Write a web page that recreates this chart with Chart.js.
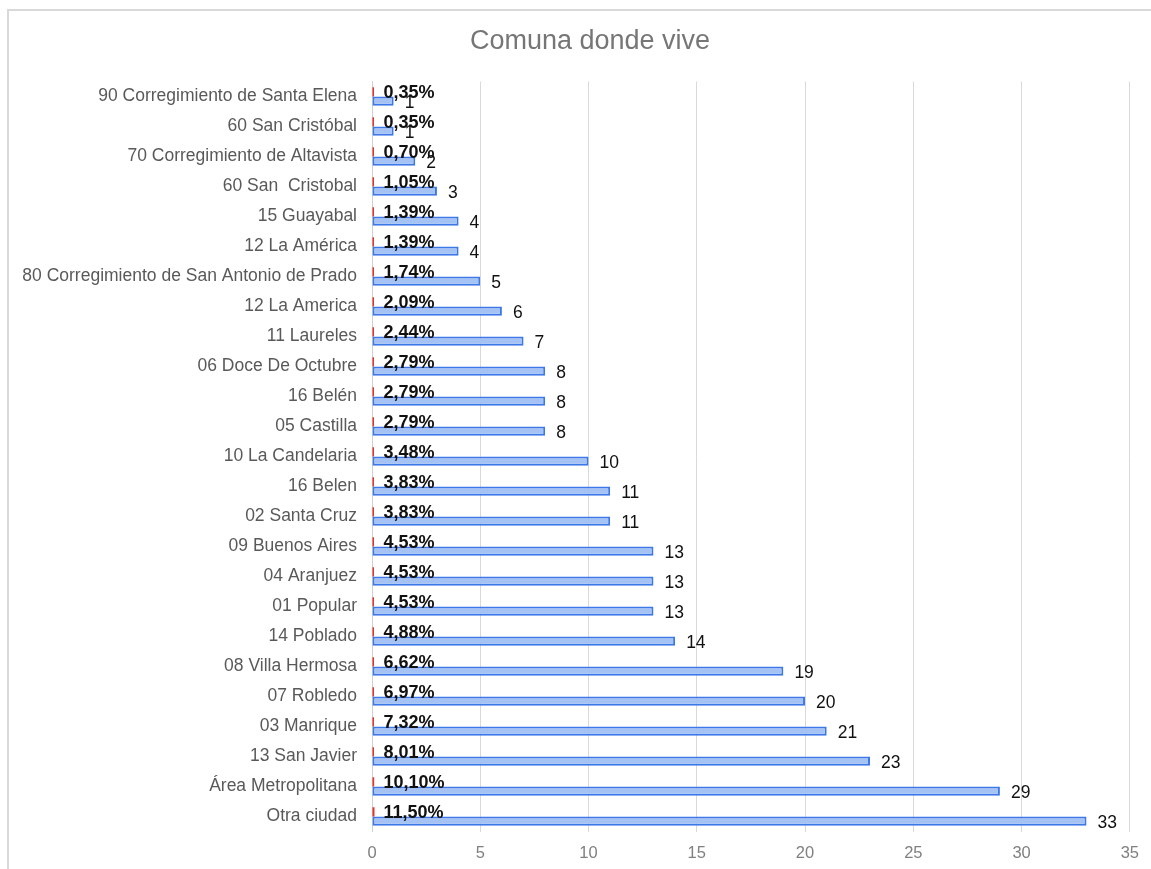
<!DOCTYPE html>
<html>
<head>
<meta charset="utf-8">
<script src="https://cdn.jsdelivr.net/npm/chart.js@4/dist/chart.umd.min.js"></script>
<style>
  html, body { margin: 0; padding: 0; background: #fff; }
  #wrap { position: relative; width: 1151px; height: 869px; overflow: hidden; }
  #frame { position: absolute; left: 7px; top: 9px; width: 1160px; height: 880px;
           border-top: 2px solid #d9d9d9; border-left: 2px solid #d9d9d9; pointer-events: none; }
  canvas { position: absolute; left: 0; top: 0; display: block; }
</style>
</head>
<body>
<div id="wrap">
  <canvas id="c" width="1151" height="869"></canvas>
  <div id="frame"></div>
</div>
<script>
const chartTitle = "Comuna donde vive";
const categories = [
  "90 Corregimiento de Santa Elena",
  "60 San Cristóbal",
  "70 Corregimiento de Altavista",
  "60 San  Cristobal",
  "15 Guayabal",
  "12 La América",
  "80 Corregimiento de San Antonio de Prado",
  "12 La America",
  "11 Laureles",
  "06 Doce De Octubre",
  "16 Belén",
  "05 Castilla",
  "10 La Candelaria",
  "16 Belen",
  "02 Santa Cruz",
  "09 Buenos Aires",
  "04 Aranjuez",
  "01 Popular",
  "14 Poblado",
  "08 Villa Hermosa",
  "07 Robledo",
  "03 Manrique",
  "13 San Javier",
  "Área Metropolitana",
  "Otra ciudad"
];
const counts = [1, 1, 2, 3, 4, 4, 5, 6, 7, 8, 8, 8, 10, 11, 11, 13, 13, 13, 14, 19, 20, 21, 23, 29, 33];
const shares = [0.0035, 0.0035, 0.0070, 0.0105, 0.0139, 0.0139, 0.0174, 0.0209, 0.0244, 0.0279, 0.0279, 0.0279,
                0.0348, 0.0383, 0.0383, 0.0453, 0.0453, 0.0453, 0.0488, 0.0662, 0.0697, 0.0732, 0.0801, 0.1010, 0.1150];
const xTicks = [0, 5, 10, 15, 20, 25, 30, 35];

const FONT = '"Liberation Sans", Arial, sans-serif';

function pct(v) {
  return (v * 100).toFixed(2).replace('.', ',') + '%';
}

const titlePlugin = {
  id: 'offsetTitle',
  afterDraw(chart) {
    const ctx = chart.ctx;
    ctx.save();
    ctx.font = '27px ' + FONT;
    ctx.fillStyle = '#767676';
    ctx.textAlign = 'center';
    ctx.textBaseline = 'middle';
    ctx.fillText(chartTitle, 590, 42);
    ctx.restore();
  }
};

const labelPlugin = {
  id: 'barLabels',
  afterDatasetsDraw(chart) {
    const ctx = chart.ctx;
    ctx.save();
    ctx.textBaseline = 'middle';
    ctx.textAlign = 'left';
    const m0 = chart.getDatasetMeta(0);
    ctx.font = 'bold 18px ' + FONT;
    ctx.fillStyle = '#111';
    m0.data.forEach((el, i) => {
      ctx.fillText(pct(shares[i]), el.base + 11, el.y + 1);
    });
    const m1 = chart.getDatasetMeta(1);
    ctx.font = '17.5px ' + FONT;
    ctx.fillStyle = '#111';
    m1.data.forEach((el, i) => {
      ctx.fillText(String(counts[i]), el.x + 11, el.y + 2);
    });
    ctx.restore();
  }
};

new Chart(document.getElementById('c'), {
  type: 'bar',
  data: {
    labels: categories,
    datasets: [
      {
        label: 'Porcentaje',
        data: shares,
        backgroundColor: '#e8302a',
        borderWidth: 0,
        minBarLength: 2,
        barPercentage: 1,
        categoryPercentage: 0.62
      },
      {
        label: 'Frecuencia',
        data: counts,
        backgroundColor: '#a4c2f4',
        borderColor: '#3c78e8',
        borderWidth: 2,
        borderSkipped: false,
        barPercentage: 1,
        categoryPercentage: 0.62
      }
    ]
  },
  options: {
    indexAxis: 'y',
    responsive: false,
    animation: false,
    devicePixelRatio: 1,
    layout: { padding: { left: 0, right: 16, top: 81.5, bottom: 0 } },
    plugins: {
      legend: { display: false },
      tooltip: { enabled: false },
      title: { display: false }
    },
    scales: {
      x: {
        min: 0,
        max: 35,
        afterBuildTicks(s) { s.ticks = xTicks.map(v => ({ value: v })); },
        afterFit(s) { s.height = 37.5; },
        grid: { color: '#d9d9d9', lineWidth: 1, drawTicks: false },
        border: { display: false },
        ticks: {
          color: '#808080',
          padding: 12,
          font: { family: FONT, size: 16.5 }
        }
      },
      y: {
        afterFit(s) { s.width = 372; },
        grid: { display: false, drawTicks: false },
        border: { display: true, color: '#d0d0d0', width: 1 },
        ticks: {
          color: '#595959',
          padding: 15,
          autoSkip: false,
          font: { family: FONT, size: 17.5 }
        }
      }
    }
  },
  plugins: [labelPlugin, titlePlugin]
});
</script>
</body>
</html>
